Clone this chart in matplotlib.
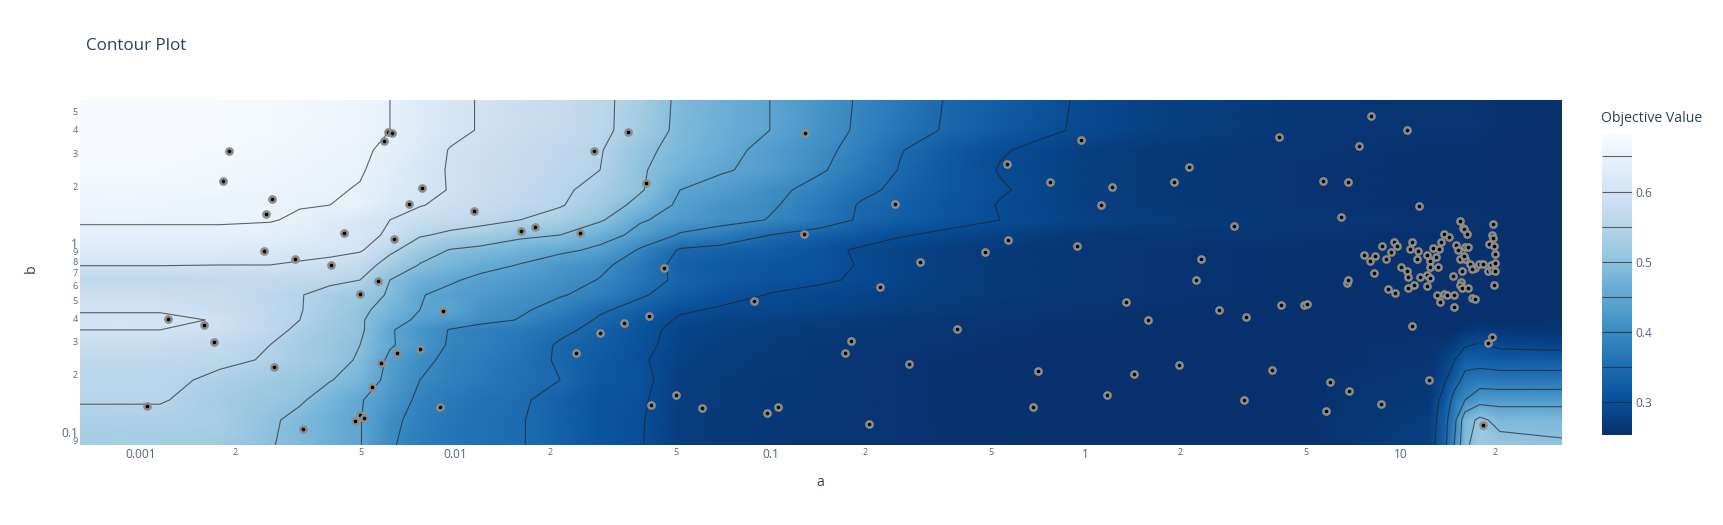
import numpy as np
import matplotlib
matplotlib.use("Agg")
import matplotlib.pyplot as plt
from matplotlib.colors import LinearSegmentedColormap
from matplotlib.ticker import FixedLocator, FixedFormatter, NullLocator

plt.rcParams['font.family'] = ['Open Sans', 'DejaVu Sans']

title = "Contour Plot"
x_label = "a"
y_label = "b"
cbar_title = "Objective Value"

x_ticks = [0.001, 0.002, 0.005, 0.01, 0.02, 0.05, 0.1, 0.2, 0.5, 1, 2, 5, 10, 20]
x_tick_labels = ["0.001", "2", "5", "0.01", "2", "5", "0.1", "2", "5", "1", "2", "5", "10", "2"]
y_ticks = [0.09, 0.1, 0.2, 0.3, 0.4, 0.5, 0.6, 0.7, 0.8, 0.9, 1, 2, 3, 4, 5]
y_tick_labels = ["9", "0.1", "2", "3", "4", "5", "6", "7", "8", "9", "1", "2", "3", "4", "5"]
major_labels = {"0.001", "0.01", "0.1", "1", "10"}

levels = [0.30, 0.35, 0.40, 0.45, 0.50, 0.55, 0.60, 0.65]
z_min, z_max = 0.253, 0.682
cbar_ticks = [0.3, 0.4, 0.5, 0.6]

# grid axes of the objective surface, as log10 of a and b
log_a_grid = [-3.192, -2.938, -2.748, -2.589, -2.494, -2.398, -2.303, -2.208, -2.113, -2.017,
              -1.922, -1.795, -1.668, -1.541, -1.414, -1.287, -1.160, -1.002, -0.843, -0.716,
              -0.589, -0.430, -0.271, -0.049, 0.205, 0.681, 1.094, 1.141, 1.173, 1.205,
              1.252, 1.316, 1.513]
log_b_grid = [0.761, 0.601, 0.495, 0.389, 0.283, 0.203, 0.124, 0.044, -0.036, -0.115, -0.195,
              -0.274, -0.354, -0.407, -0.460, -0.540, -0.619, -0.726, -0.832, -0.938, -1.071]

z_rows = [
 [.68,.68,.68,.675,.67,.665,.66,.65,.63,.612,.597,.585,.575,.56,.53,.49,.47,.45,.42,.395,.375,.345,.33,.30,.28,.265,.26,.26,.26,.26,.26,.258,.255],
 [.68,.68,.68,.675,.67,.665,.66,.65,.63,.612,.597,.585,.575,.56,.528,.488,.47,.45,.418,.393,.37,.343,.325,.298,.28,.265,.26,.26,.26,.26,.26,.258,.255],
 [.68,.68,.675,.67,.665,.66,.655,.643,.62,.598,.59,.578,.565,.553,.51,.485,.465,.435,.41,.385,.352,.325,.303,.28,.27,.262,.258,.258,.258,.258,.258,.256,.255],
 [.675,.675,.67,.665,.66,.657,.653,.635,.613,.597,.587,.575,.563,.55,.505,.475,.455,.435,.405,.375,.348,.32,.298,.28,.27,.26,.258,.258,.258,.258,.258,.256,.255],
 [.665,.665,.665,.66,.655,.653,.648,.63,.612,.598,.585,.57,.557,.535,.505,.45,.435,.41,.385,.36,.34,.32,.303,.28,.27,.26,.258,.258,.258,.258,.258,.256,.255],
 [.66,.66,.655,.652,.652,.65,.647,.62,.602,.59,.58,.565,.553,.525,.485,.44,.42,.405,.375,.347,.335,.315,.298,.28,.27,.26,.258,.258,.258,.258,.258,.256,.255],
 [.655,.655,.655,.652,.645,.63,.615,.60,.585,.575,.565,.55,.535,.505,.455,.43,.415,.398,.37,.345,.33,.315,.30,.285,.275,.265,.26,.26,.26,.26,.26,.258,.256],
 [.64,.64,.64,.64,.635,.625,.61,.595,.555,.54,.53,.51,.50,.47,.435,.395,.38,.35,.335,.32,.303,.29,.28,.27,.265,.26,.258,.258,.258,.258,.258,.256,.255],
 [.625,.625,.625,.62,.615,.61,.605,.56,.52,.498,.49,.475,.46,.44,.395,.345,.337,.33,.31,.295,.285,.275,.27,.265,.26,.258,.256,.256,.256,.256,.256,.255,.255],
 [.602,.602,.60,.60,.595,.59,.572,.53,.498,.48,.465,.448,.425,.41,.375,.335,.325,.318,.31,.298,.285,.275,.27,.265,.26,.258,.256,.256,.256,.256,.256,.255,.255],
 [.565,.565,.57,.57,.565,.56,.55,.50,.47,.455,.44,.43,.415,.398,.37,.34,.325,.315,.305,.295,.285,.275,.27,.265,.26,.257,.255,.255,.255,.255,.255,.255,.255],
 [.585,.585,.58,.56,.552,.535,.52,.495,.452,.44,.43,.417,.403,.385,.355,.33,.315,.298,.29,.285,.28,.275,.27,.265,.26,.257,.255,.255,.255,.255,.255,.255,.255],
 [.598,.598,.585,.565,.552,.53,.51,.48,.45,.45,.42,.405,.385,.355,.335,.305,.295,.29,.285,.28,.275,.27,.265,.26,.258,.256,.255,.255,.255,.255,.256,.256,.255],
 [.605,.605,.598,.56,.55,.525,.505,.47,.44,.425,.412,.398,.37,.345,.32,.295,.285,.28,.275,.272,.268,.265,.262,.258,.257,.255,.255,.255,.256,.256,.258,.257,.255],
 [.60,.60,.59,.565,.54,.52,.507,.455,.42,.398,.385,.375,.36,.335,.315,.285,.28,.275,.27,.268,.265,.262,.26,.257,.255,.255,.255,.256,.258,.262,.27,.265,.26],
 [.58,.58,.57,.55,.53,.515,.50,.455,.425,.395,.385,.37,.345,.33,.31,.285,.278,.272,.268,.265,.262,.26,.258,.256,.255,.255,.26,.265,.275,.295,.305,.29,.285],
 [.565,.565,.56,.545,.53,.515,.495,.44,.41,.39,.38,.365,.345,.325,.305,.28,.275,.27,.267,.263,.26,.258,.256,.255,.255,.255,.26,.28,.30,.33,.33,.325,.325],
 [.56,.56,.54,.525,.515,.502,.48,.435,.40,.385,.375,.36,.35,.32,.31,.278,.272,.268,.265,.262,.26,.258,.257,.256,.255,.255,.265,.295,.33,.365,.375,.37,.37],
 [.553,.553,.53,.515,.505,.48,.453,.425,.39,.375,.365,.355,.335,.315,.305,.278,.272,.268,.265,.262,.26,.258,.257,.256,.255,.255,.27,.32,.37,.40,.43,.43,.43],
 [.54,.54,.535,.505,.49,.47,.452,.41,.385,.37,.36,.352,.335,.315,.303,.275,.27,.267,.264,.261,.26,.258,.257,.256,.255,.255,.275,.335,.39,.48,.51,.485,.485],
 [.53,.53,.525,.502,.49,.47,.452,.405,.38,.37,.36,.352,.335,.315,.302,.275,.27,.267,.264,.261,.26,.258,.257,.256,.255,.255,.28,.34,.405,.49,.525,.515,.505],
]

# trials, as log10 of a and b
log_a_trials = [
 -2.719,-2.737,-2.584,-2.603,-2.215,-2.203,-2.226,-2.106,-2.146,-1.942,-1.792,-1.747,-2.353,-2.196,-2.608,-2.510,-2.395,
 -2.247,-2.302,-2.914,-2.799,-2.765,-2.038,-2.111,-2.187,-2.236,-2.575,-2.266,-2.978,-2.049,-2.302,-2.289,-2.319,-2.483,
 -1.453,-1.559,-1.395,-1.604,-.890,-.249,-.605,-.895,-.247,-.319,-.524,-1.338,-.653,-1.053,-1.385,-1.466,-1.540,-1.617,
 -.408,-.745,-.763,-.559,-.152,-1.301,-1.378,-1.217,-.976,-1.011,-.168,-.686,
 -.014,-.114,.083,.048,.282,.329,.613,.906,1.020,.870,.753,.834,.812,1.059,.472,-.027,.367,.351,.128,.199,.424,.510,.620,
 .693,.703,1.036,.297,.154,.069,.592,.503,.777,.837,.763,.939,1.091,1.290,1.277,1.261,.832,.834,
 1.190,1.199,1.203,1.212,1.294,1.137,1.155,1.291,1.295,1.282,1.298,1.129,1.175,1.183,1.206,1.214,.981,.990,.940,1.037,
 1.032,1.057,.970,.884,.918,.902,.954,1.083,1.105,1.123,1.112,1.095,1.095,1.118,1.052,1.002,1.021,1.023,.915,1.061,
 1.085,1.093,1.166,1.197,1.190,1.204,1.202,1.222,1.236,1.226,1.248,1.262,1.287,1.299,1.299,1.277,1.290,1.299,1.297,
 1.192,1.189,1.197,1.216,1.085,1.044,1.023,.961,.983,1.117,1.139,1.149,1.171,1.126,1.169,1.226,1.238,
]
log_b_trials = [
 .490,.329,.237,.157,.593,.584,.543,.292,.210,.170,.067,.087,.056,.023,-.039,-.083,-.117,
 -.202,-.271,-.402,-.434,-.522,-.361,-.563,-.584,-.634,-.657,-.764,-.865,-.871,-.910,-.925,-.941,-.987,
 .593,.488,.322,.057,.586,.419,.209,.048,.016,-.046,-.099,-.131,-.232,-.306,-.386,-.425,-.474,-.580,
 -.456,-.517,-.584,-.642,-.679,-.803,-.860,-.876,-.869,-.899,-.871,-.959,
 .550,.325,.301,.205,.324,.403,.566,.678,.603,.518,.331,.327,.140,.196,.092,-.012,-.085,-.196,-.310,-.409,-.356,-.389,-.329,
 -.327,-.324,-.441,-.644,-.694,-.805,-.672,-.830,-.738,-.784,-.890,-.855,-.727,-.497,-.527,-.966,-.211,-.197,
 .118,.081,.074,.049,.102,.051,.035,.044,.030,-.002,-.014,.009,-.007,-.035,-.020,-.018,.007,-.014,-.016,.005,
 -.032,-.043,-.045,-.062,-.069,-.092,-.083,-.060,-.027,-.029,-.074,-.096,-.124,-.126,-.082,-.126,-.147,-.179,-.156,-.179,
 -.168,-.182,-.174,-.149,-.082,-.085,-.066,-.112,-.133,-.138,-.110,-.110,-.113,-.106,-.057,-.147,-.142,-.149,-.221,
 -.205,-.223,-.235,-.239,-.225,-.220,-.235,-.244,-.264,-.274,-.271,-.274,-.276,-.313,-.338,-.289,-.296,
]

blues_r = LinearSegmentedColormap.from_list("blues_r", [
    (8/255, 48/255, 107/255), (8/255, 81/255, 156/255), (33/255, 113/255, 181/255),
    (66/255, 146/255, 198/255), (107/255, 174/255, 214/255), (158/255, 202/255, 225/255),
    (198/255, 219/255, 239/255), (222/255, 235/255, 247/255), (247/255, 251/255, 255/255)])

W, H = 1724, 525
fig = plt.figure(figsize=(W / 100, H / 100), dpi=100, facecolor="white")
ax = fig.add_axes([80 / W, 1 - 445 / H, (1562 - 80) / W, 345 / H])

a_grid = 10.0 ** np.array(log_a_grid)
b_grid = 10.0 ** np.array(log_b_grid)
z = np.array(z_rows)
A, B = np.meshgrid(a_grid, b_grid)

mesh = ax.pcolormesh(A, B, z, shading="gouraud", cmap=blues_r, vmin=z_min, vmax=z_max, rasterized=True)
line_color = (0.13, 0.13, 0.13, 0.68)
cs = ax.contour(A, B, z, levels=levels, colors=[line_color], linewidths=0.8)
ax.scatter(10.0 ** np.array(log_a_trials), 10.0 ** np.array(log_b_trials), s=20, c="black",
           edgecolors="#8e8d8a", linewidths=1.8, zorder=5)

ax.set_xscale("log")
ax.set_yscale("log")
ax.set_xlim(10 ** -3.192, 10 ** 1.513)
ax.set_ylim(10 ** -1.071, 10 ** 0.761)
for s in ax.spines.values():
    s.set_visible(False)

tick_color = "#506784"
ax.xaxis.set_major_locator(FixedLocator(x_ticks))
ax.xaxis.set_major_formatter(FixedFormatter(x_tick_labels))
ax.xaxis.set_minor_locator(NullLocator())
ax.yaxis.set_major_locator(FixedLocator(y_ticks))
ax.yaxis.set_major_formatter(FixedFormatter(y_tick_labels))
ax.yaxis.set_minor_locator(NullLocator())
ax.tick_params(axis="both", length=0, colors=tick_color)
ax.tick_params(axis="x", pad=2.5)
ax.tick_params(axis="y", pad=1.5)
for lab, txt in zip(ax.get_xticklabels(), x_tick_labels):
    lab.set_fontsize(8.64 if txt in major_labels else 6.5)
for lab, txt in zip(ax.get_yticklabels(), y_tick_labels):
    lab.set_fontsize(8.64 if txt in major_labels else 6.5)

title_color = "#2a3f5f"
fig.text(86 / W, 1 - 46 / H, title, fontsize=12.24, color=title_color, va="center", ha="left")
fig.text(820 / W, 1 - 482 / H, x_label, fontsize=10.08, color=title_color, va="center", ha="center")
fig.text(31 / W, 1 - 269 / H, y_label, fontsize=10.08, color=title_color, va="center", ha="center", rotation=90)

cax = fig.add_axes([1602 / W, 1 - 435 / H, 30 / W, 301 / H])
cbar = fig.colorbar(mesh, cax=cax, ticks=cbar_ticks)
cbar.outline.set_visible(False)
cbar.solids.set_edgecolor("face")
cbar.ax.hlines(levels, 0, 1, transform=cbar.ax.get_yaxis_transform(), colors=[line_color], linewidths=0.8)
cbar.ax.tick_params(length=0, labelsize=8.64, labelcolor=tick_color, pad=2.5)
cbar.ax.set_yticklabels([f"{t:.1f}" for t in cbar_ticks])
fig.text(1601 / W, 1 - 119 / H, cbar_title, fontsize=10.08, color=title_color, va="center", ha="left")

fig.savefig("out.png", dpi=100)
